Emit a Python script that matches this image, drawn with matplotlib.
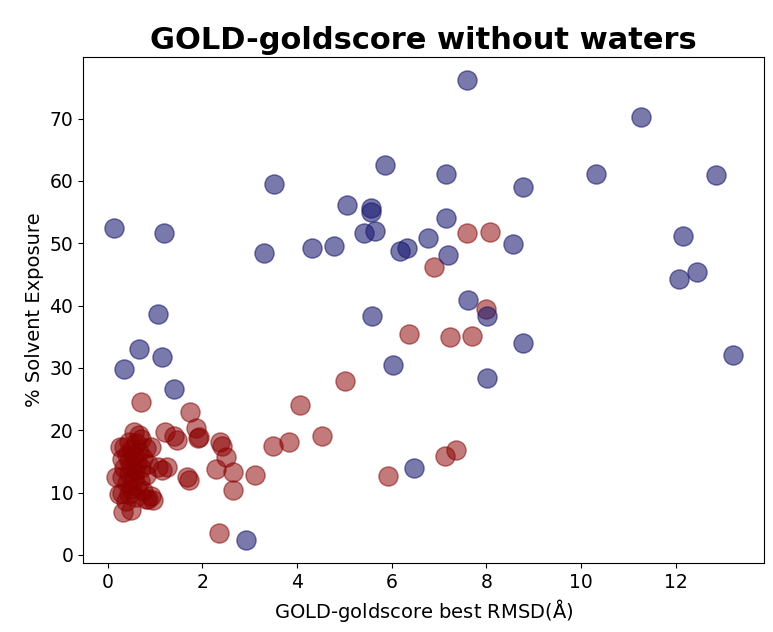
import numpy as np
import matplotlib
matplotlib.use("Agg")
import matplotlib.pyplot as plt

# --- data (RMSD in A, % solvent exposure)

# blue series
blue_rmsd = [7.59, 11.27, 5.85, 7.15, 10.31, 12.84, 3.51, 8.77, 5.06, 5.57,
             5.57, 7.15, 0.13, 1.19, 5.42, 5.65, 12.16, 6.76, 8.57, 4.77,
             6.32, 4.32, 6.18, 3.30, 7.19, 12.45, 12.07, 7.61, 1.05, 5.58,
             8.02, 8.78, 0.65, 1.14, 13.21, 6.03, 0.34, 8.01, 1.40, 6.46, 2.91]
blue_solv = [76.2, 70.2, 62.6, 61.1, 61.1, 60.9, 59.5, 59.0, 56.2, 55.6,
             55.0, 54.0, 52.5, 51.6, 51.7, 51.9, 51.2, 50.9, 49.9, 49.6,
             49.3, 49.2, 48.8, 48.5, 48.2, 45.4, 44.2, 40.9, 38.7, 38.4,
             38.3, 34.0, 33.1, 31.8, 32.0, 30.5, 29.9, 28.4, 26.7, 14.0, 2.4]

# red series: spread-out points
red_rmsd = [7.59, 8.07, 6.90, 8.00, 6.36, 7.22, 7.69, 5.02, 4.05, 0.71,
            1.74, 1.21, 1.39, 1.47, 1.86, 1.93, 1.90, 2.38, 2.41, 2.49,
            2.28, 2.64, 2.64, 3.10, 1.68, 1.72, 2.35, 3.49, 3.82, 4.53,
            7.13, 7.36, 5.91, 1.15, 1.24, 0.84, 0.96, 0.33, 0.50, 0.24,
            0.17, 0.26, 1.05, 0.91, 0.91]
red_solv = [51.7, 51.8, 46.2, 39.5, 35.4, 34.9, 35.2, 27.9, 24.1, 24.6,
            22.9, 19.8, 19.1, 18.5, 20.3, 18.9, 18.7, 18.2, 17.5, 15.7,
            13.8, 13.3, 10.4, 12.9, 12.5, 12.0, 3.6, 17.4, 18.1, 19.1,
            15.9, 16.9, 12.7, 13.7, 14.1, 8.9, 8.8, 6.9, 7.2, 9.8,
            12.5, 17.3, 14.1, 17.3, 9.4]

# red series: dense cluster near the origin
cluster_rmsd = [0.55, 0.65, 0.70, 0.45, 0.60, 0.35, 0.80, 0.50, 0.65, 0.40,
                0.55, 0.75, 0.30, 0.45, 0.62, 0.85, 0.50, 0.35, 0.70, 0.58,
                0.45, 0.80, 0.30, 0.55, 0.68, 0.40, 0.62, 0.50, 0.75, 0.30,
                0.45, 0.60, 0.80, 0.38]
cluster_solv = [19.8, 19.3, 18.6, 18.2, 17.9, 17.3, 17.1, 16.8, 16.5, 16.0,
                15.8, 15.5, 15.4, 15.1, 14.8, 14.6, 14.3, 14.0, 13.9, 13.4,
                13.0, 12.8, 12.5, 12.2, 11.8, 11.5, 11.0, 10.6, 10.3, 10.0,
                9.7, 9.3, 9.0, 8.7]

fig = plt.figure(figsize=(7.73, 6.32), dpi=100)
ax = fig.add_axes([0.1074, 0.1092, 0.881, 0.8006])

ax.scatter(red_rmsd + cluster_rmsd, red_solv + cluster_solv,
           s=190, c='darkred', alpha=0.52)
ax.scatter(blue_rmsd, blue_solv, s=190, c='midnightblue', alpha=0.58)

ax.set_title('GOLD-goldscore without waters', fontsize=22, fontweight='bold')
ax.set_xlabel(r'GOLD-goldscore best RMSD($\mathrm{\AA}$)', fontsize=14)
ax.set_ylabel('% Solvent Exposure', fontsize=14)
ax.tick_params(labelsize=13.5)

fig.savefig('out.png', dpi=100)
